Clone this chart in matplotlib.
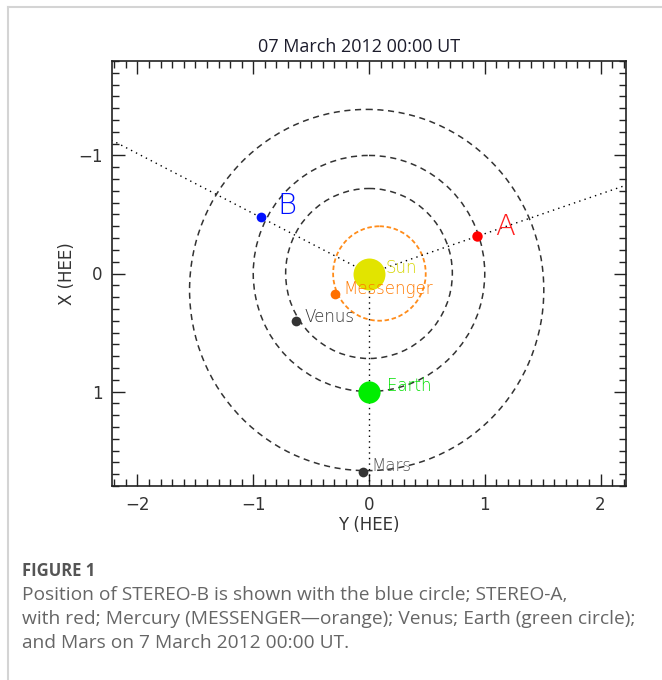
import numpy as np
import matplotlib.pyplot as plt
from matplotlib.patches import Circle
from matplotlib.ticker import MultipleLocator
from matplotlib.lines import Line2D

# positions in HEE (Y horizontal, X vertical, AU)
names = ['Sun', 'Messenger', 'Venus', 'Earth', 'Mars', 'B', 'A']
pos_y = [0.0, -0.29, -0.63, 0.0, -0.05, -0.935, 0.935]
pos_x = [0.0, 0.17, 0.40, 1.0, 1.68, -0.475, -0.315]
colors = ['#e2e400', '#ff6f00', '#333333', '#00ee00', '#333333', '#0010ff', '#ff0000']

# orbits: centre (Y, X) and radius
orbit_cy = [0.09, 0.0, 0.0, -0.02]
orbit_cx = [0.0, 0.0, 0.0, 0.14]
orbit_r = [0.40, 0.72, 1.0, 1.53]
orbit_col = ['#ff8c1a', '#333333', '#333333', '#333333']

xlim = (-2.22, 2.22)
ylim = (1.80, -1.80)

fig = plt.figure(figsize=(6.62, 6.80), dpi=100)
ax = fig.add_axes([112 / 662, 1 - 486 / 680, 514 / 662, 425 / 680])

# orbits
for cy, cx, r, c in zip(orbit_cy, orbit_cx, orbit_r, orbit_col):
    lw = 1.3 if c != '#333333' else 1.1
    ax.add_patch(Circle((cy, cx), r, fill=False, edgecolor=c, lw=lw,
                        linestyle=(0, (4, 3)) if c == '#333333' else (0, (2.5, 1.5))))

# dotted lines from the Sun to the spacecraft / Earth, running to the frame edge
for i in [5, 6]:
    t = abs(xlim[0]) / abs(pos_y[i])
    ax.plot([0, pos_y[i] * t], [0, pos_x[i] * t], color='black', lw=1.0,
            linestyle=(0, (1, 3)))
ax.plot([0, 0], [0, ylim[0]], color='black', lw=1.0, linestyle=(0, (1, 3)))

# bodies
sizes = [23, 7, 7, 16, 7, 7, 7.5]
for y, x, c, s in zip(pos_y, pos_x, colors, sizes):
    ax.plot(y, x, 'o', color=c, markersize=s, markeredgewidth=0, zorder=5)

# labels
lab_off = {'Sun': (12, 4), 'Messenger': (6, 3), 'Venus': (6, 3), 'Earth': (13, 4),
           'Mars': (6, 4), 'B': (12, 8), 'A': (13, 7)}
lab_col = {'Sun': '#d6d600', 'Messenger': '#ff7a00', 'Venus': '#333333',
           'Earth': '#00e000', 'Mars': '#555555', 'B': '#0010ff', 'A': '#ff2020'}
for n, y, x in zip(names, pos_y, pos_x):
    fs = 21 if n in ('A', 'B') else 12
    ax.annotate(n, (y, x), xytext=lab_off[n], textcoords='offset points',
                color=lab_col[n], fontsize=fs, va='center', ha='left',
                family='DejaVu Sans', fontweight='light', zorder=6)

ax.set_xlim(xlim)
ax.set_ylim(ylim)
ax.xaxis.set_major_locator(MultipleLocator(1))
ax.xaxis.set_minor_locator(MultipleLocator(0.1))
ax.yaxis.set_major_locator(MultipleLocator(1))
ax.yaxis.set_minor_locator(MultipleLocator(0.1))
ax.tick_params(which='both', direction='in', top=True, right=True, colors='#222222',
               labelcolor='#333333', labelsize=12, width=1.0)
ax.tick_params(which='major', length=9, pad=7)
ax.tick_params(which='minor', length=5)
for sp in ax.spines.values():
    sp.set_linewidth(1.2)
    sp.set_color('#222222')

ax.set_xlabel('Y (HEE)', fontsize=12, color='#333333', labelpad=2)
ax.set_ylabel('X (HEE)', fontsize=12, color='#333333', labelpad=1)
fig.text(359 / 662, 1 - 47 / 680, '07 March 2012 00:00 UT', fontsize=13,
         color='#1c1c2c', family='Open Sans', ha='center', va='center')

# page frame and caption
fig.add_artist(Line2D([8 / 662, 8 / 662], [0, 1 - 7 / 680], color='#d4d4d4', lw=1.5))
fig.add_artist(Line2D([8 / 662, 1], [1 - 7 / 680, 1 - 7 / 680], color='#d4d4d4', lw=1.5))

fig.text(22 / 662, 1 - 571 / 680, 'FIGURE 1', fontsize=12, fontweight='bold',
         color='#555555', family='Open Sans', va='center')
caption = ['Position of STEREO-B is shown with the blue circle; STEREO-A,',
           'with red; Mercury (MESSENGER\u2014orange); Venus; Earth (green circle);',
           'and Mars on 7 March 2012 00:00 UT.']
for k, line in enumerate(caption):
    fig.text(22 / 662, 1 - (595 + 24 * k) / 680, line, fontsize=13.8, color='#666666',
             family='Open Sans', va='center')

fig.savefig('out.png', dpi=100)
